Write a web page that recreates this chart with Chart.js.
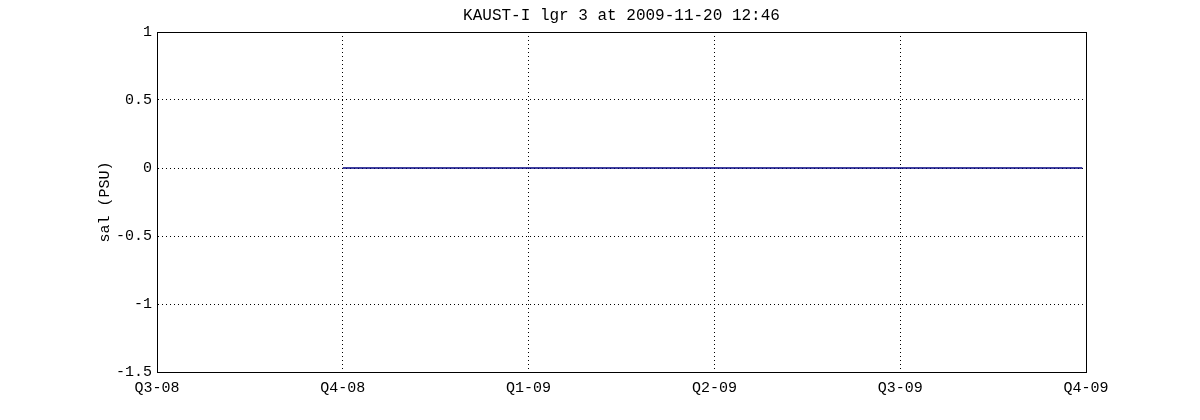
<!DOCTYPE html>
<html>
<head>
<meta charset="utf-8">
<script src="https://cdn.jsdelivr.net/npm/chart.js@4/dist/chart.umd.min.js"></script>
<style>
  html, body { margin: 0; padding: 0; background: #fff; }
  #wrap { width: 1200px; height: 420px; }
</style>
</head>
<body>
<div id="wrap"><canvas id="salChart" width="1200" height="420"></canvas></div>
<script>
// quarter tick labels (x positions are quarter indices 0..5)
const quarterLabels = ["Q3-08", "Q4-08", "Q1-09", "Q2-09", "Q3-09", "Q4-09"];
// salinity record: starts at Q4-08, flat at zero until just before Q4-09
const salTimes = [1, 4.98];
const salValues = [0, 0];
const yTicks = [-1.5, -1, -0.5, 0, 0.5, 1];

const monoFont = "'Liberation Mono', 'DejaVu Sans Mono', monospace";

// box round the axes (top and right edges too)
const frameBox = {
    id: "frameBox",
    afterDraw(chart) {
        const a = chart.chartArea;
        const ctx = chart.ctx;
        ctx.save();
        ctx.strokeStyle = "#000";
        ctx.lineWidth = 1;
        ctx.setLineDash([]);
        ctx.strokeRect(Math.round(a.left) + 0.5, Math.round(a.top) + 0.5,
            Math.round(a.right - a.left), Math.round(a.bottom - a.top));
        ctx.restore();
    }
};

const ctx = document.getElementById("salChart").getContext("2d");
const salChart = new Chart(ctx, {
    type: "line",
    data: {
        datasets: [{
            label: "sal",
            data: salTimes.map((t, i) => ({ x: t, y: salValues[i] })),
            borderColor: "#00007f",
            borderWidth: 1.5,
            pointRadius: 0,
            fill: false,
            tension: 0
        }]
    },
    options: {
        responsive: false,
        animation: false,
        // left padding keeps the title centred over the plot box
        layout: { padding: { left: 43, right: 0, top: 0, bottom: 0 } },
        plugins: {
            legend: { display: false },
            tooltip: { enabled: false },
            title: {
                display: true,
                text: "KAUST-I lgr 3 at 2009-11-20 12:46",
                color: "#000",
                font: { family: monoFont, size: 16, weight: "normal" },
                padding: { top: 6, bottom: 6.8 }
            }
        },
        scales: {
            x: {
                type: "linear",
                min: 0,
                max: quarterLabels.length - 1,
                afterBuildTicks(scale) {
                    scale.ticks = quarterLabels.map((_, i) => ({ value: i }));
                },
                afterFit(scale) { scale.height = 48; },
                ticks: {
                    color: "#000",
                    font: { family: monoFont, size: 15 },
                    padding: 7,
                    maxRotation: 0,
                    autoSkip: false,
                    callback: (v) => quarterLabels[v]
                },
                grid: { color: "#000", lineWidth: 1, drawTicks: false },
                border: { display: true, color: "#000", width: 1, dash: [1, 3] }
            },
            y: {
                min: -1.5,
                max: 1,
                afterBuildTicks(scale) {
                    scale.ticks = yTicks.map(v => ({ value: v }));
                },
                afterFit(scale) { scale.width = 114; },
                ticks: {
                    color: "#000",
                    font: { family: monoFont, size: 15 },
                    padding: 5,
                    callback: (v) => String(v)
                },
                grid: { color: "#000", lineWidth: 1, drawTicks: false },
                border: { display: true, color: "#000", width: 1, dash: [1, 3] },
                title: {
                    display: true,
                    text: "sal (PSU)",
                    color: "#000",
                    font: { family: monoFont, size: 15 },
                    padding: { top: 53, bottom: 0 }
                }
            },
            // empty right-hand spacer so the plot box ends at x=1086
            yRight: {
                position: "right",
                min: -1.5,
                max: 1,
                afterFit(scale) { scale.width = 114; },
                ticks: { display: false },
                grid: { display: false, drawOnChartArea: false },
                border: { display: false }
            }
        }
    },
    plugins: [frameBox]
});
</script>
</body>
</html>
